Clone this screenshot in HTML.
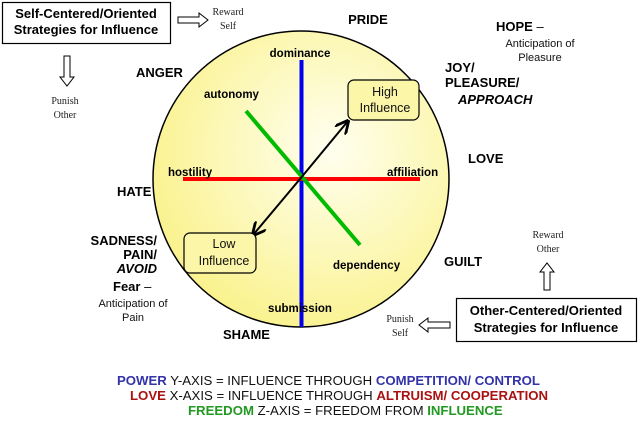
<!DOCTYPE html>
<html><head><meta charset="utf-8"><style>
html,body{margin:0;padding:0;background:#fff;}
svg{display:block;font-family:"Liberation Sans",sans-serif;}
.b{font-weight:bold;font-size:13px;fill:#000}
.s{font-weight:bold;font-size:11.5px;fill:#000}
.r{font-family:"Liberation Serif",serif;font-size:10px;fill:#222}
.n{font-size:11px;fill:#111}
</style></head><body>
<svg width="639" height="429" viewBox="0 0 639 429">
<defs>
<radialGradient id="g" cx="0.6" cy="0.4" r="0.65">
<stop offset="0" stop-color="#fffff0"/><stop offset="1" stop-color="#faf28c"/>
</radialGradient>
<marker id="ah" viewBox="0 0 10 10" refX="9" refY="5" markerWidth="7" markerHeight="7" orient="auto-start-reverse">
<path d="M0,0 L10,5 L0,10" fill="none" stroke="#000" stroke-width="2"/>
</marker>
</defs>
<circle cx="301" cy="179" r="148" fill="url(#g)" stroke="#000" stroke-width="1.5"/>
<line x1="301.5" y1="60" x2="301.5" y2="327" stroke="#0000ee" stroke-width="4"/>
<line x1="183" y1="179" x2="420" y2="179" stroke="#ff0000" stroke-width="4"/>
<line x1="246" y1="111" x2="360" y2="245" stroke="#00bb00" stroke-width="4"/>
<line x1="300" y1="179" x2="348" y2="121" stroke="#000" stroke-width="2" marker-end="url(#ah)"/>
<line x1="300" y1="179" x2="253" y2="235" stroke="#000" stroke-width="2" marker-end="url(#ah)"/>
<rect x="348" y="80" width="71" height="40" rx="6" fill="#fcf6a8" stroke="#000" stroke-width="1.2"/>
<text x="385" y="96" text-anchor="middle" class="n" style="font-size:12.5px">High</text>
<text x="385" y="112" text-anchor="middle" class="n" style="font-size:12.5px">Influence</text>
<rect x="184" y="233" width="72" height="40" rx="6" fill="#fcf6a8" stroke="#000" stroke-width="1.2"/>
<text x="224" y="248" text-anchor="middle" class="n" style="font-size:12.5px">Low</text>
<text x="224" y="265" text-anchor="middle" class="n" style="font-size:12.5px">Influence</text>

<rect x="2.5" y="2.5" width="168" height="41" fill="#fff" stroke="#000" stroke-width="1.2"/>
<text x="86" y="18" text-anchor="middle" class="b">Self-Centered/Oriented</text>
<text x="86" y="34" text-anchor="middle" class="b">Strategies for Influence</text>
<path d="M178,17 h21 v-4 l9,7 l-9,7 v-4 h-21 z" fill="#fff" stroke="#000"/>
<text x="228" y="15" text-anchor="middle" class="r">Reward</text>
<text x="228" y="29" text-anchor="middle" class="r">Self</text>
<path d="M64,56 v21 h-4 l7,9 l7,-9 h-4 v-21 z" fill="#fff" stroke="#000"/>
<text x="65" y="104" text-anchor="middle" class="r">Punish</text>
<text x="65" y="118" text-anchor="middle" class="r">Other</text>

<rect x="456.5" y="298.5" width="180" height="43" fill="#fff" stroke="#000" stroke-width="1.2"/>
<text x="546" y="315" text-anchor="middle" class="b">Other-Centered/Oriented</text>
<text x="546" y="332" text-anchor="middle" class="b">Strategies for Influence</text>
<path d="M450,322 h-22 v-4 l-9,7 l9,7 v-4 h22 z" fill="#fff" stroke="#000"/>
<text x="400" y="322" text-anchor="middle" class="r">Punish</text>
<text x="400" y="336" text-anchor="middle" class="r">Self</text>
<path d="M544,290 v-18 h-4 l7,-9 l7,9 h-4 v18 z" fill="#fff" stroke="#000"/>
<text x="548" y="238" text-anchor="middle" class="r">Reward</text>
<text x="548" y="252" text-anchor="middle" class="r">Other</text>

<text x="368" y="24" text-anchor="middle" class="b">PRIDE</text>
<text x="136" y="77" class="b">ANGER</text>
<text x="300" y="57" text-anchor="middle" class="s">dominance</text>
<text x="204" y="98" class="s">autonomy</text>
<text x="496" y="31" class="b">HOPE <tspan font-weight="normal">–</tspan></text>
<text x="540" y="47" text-anchor="middle" class="n">Anticipation of</text>
<text x="540" y="61" text-anchor="middle" class="n">Pleasure</text>
<text x="445" y="72" class="b">JOY/</text>
<text x="445" y="87" class="b">PLEASURE/</text>
<text x="458" y="104" class="b" font-style="italic">APPROACH</text>
<text x="468" y="163" class="b">LOVE</text>
<text x="387" y="176" class="s">affiliation</text>
<text x="168" y="176" class="s">hostility</text>
<text x="117" y="196" class="b">HATE</text>
<text x="157" y="245" text-anchor="end" class="b">SADNESS/</text>
<text x="157" y="259" text-anchor="end" class="b">PAIN/</text>
<text x="157" y="273" text-anchor="end" class="b" font-style="italic">AVOID</text>
<text x="113" y="291" class="b">Fear <tspan font-weight="normal">–</tspan></text>
<text x="133" y="307" text-anchor="middle" class="n">Anticipation of</text>
<text x="133" y="321" text-anchor="middle" class="n">Pain</text>
<text x="223" y="339" class="b">SHAME</text>
<text x="300" y="312" text-anchor="middle" class="s">submission</text>
<text x="333" y="269" class="s">dependency</text>
<text x="444" y="266" class="b">GUILT</text>

<g font-size="13.2" fill="#111">
<text x="117" y="385"><tspan font-weight="bold" fill="#3333aa">POWER</tspan> Y-AXIS = INFLUENCE THROUGH <tspan font-weight="bold" fill="#3333aa">COMPETITION/ CONTROL</tspan></text>
<text x="130" y="400"><tspan font-weight="bold" fill="#aa1111">LOVE</tspan> X-AXIS = INFLUENCE THROUGH <tspan font-weight="bold" fill="#aa1111">ALTRUISM/ COOPERATION</tspan></text>
<text x="188" y="415"><tspan font-weight="bold" fill="#229922">FREEDOM</tspan> Z-AXIS = FREEDOM FROM <tspan font-weight="bold" fill="#229922">INFLUENCE</tspan></text>
</g>
</svg>
</body></html>
